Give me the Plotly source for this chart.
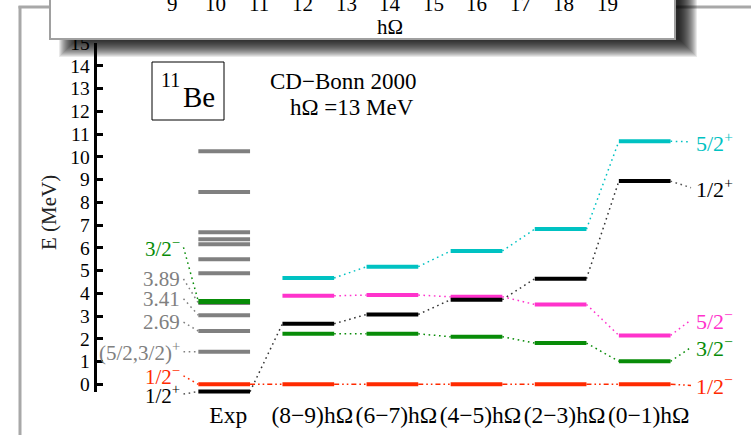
import plotly.graph_objects as go

W, H = 751, 435
FONT = "Liberation Serif, Times New Roman, serif"

# ---------------- data ----------------
columns = ["Exp", "(8−9)hΩ", "(6−7)hΩ", "(4−5)hΩ", "(2−3)hΩ", "(0−1)hΩ"]

exp_gray_levels = [1.43, 2.34, 3.04, 3.57, 4.88, 5.50, 6.16, 6.37, 6.68, 8.45, 10.24]
exp_32m = 3.64    # 3/2-
exp_12m = 0.0     # 1/2-
exp_12p = -0.32   # 1/2+

th_52p = [4.67, 5.17, 5.86, 6.82, 10.68]
th_52m = [3.89, 3.92, 3.85, 3.51, 2.15]
th_12p = [2.66, 3.07, 3.72, 4.64, 8.93]
th_32m = [2.22, 2.22, 2.09, 1.81, 1.01]
th_12m = [0.0, 0.0, 0.0, 0.0, 0.0]

left_labels = ["3/2<sup>−</sup>", "3.89", "3.41", "2.69",
               "(5/2,3/2)<sup>+</sup>", "1/2<sup>−</sup>", "1/2<sup>+</sup>"]
left_label_E = [6.02, 4.63, 3.76, 2.73, 1.43, 0.37, -0.43]
left_level_E = [exp_32m, exp_gray_levels[3], exp_gray_levels[2], exp_gray_levels[1],
                exp_gray_levels[0], exp_12m, exp_12p]

right_labels = ["5/2<sup>+</sup>", "1/2<sup>+</sup>", "5/2<sup>−</sup>",
                "3/2<sup>−</sup>", "1/2<sup>−</sup>"]
right_label_E = [10.66, 8.64, 2.83, 1.62, -0.05]

inset_ticks = [9, 10, 11, 12, 13, 14, 15, 16, 17, 18, 19]
inset_title = "hΩ"

y_ticks = list(range(0, 16))

# ---------------- styles / layout geometry ----------------
C_GRAY = "#808080"
C_GREEN = "#088c08"
C_RED = "#ff2a00"
C_BLACK = "#000000"
C_CYAN = "#00c2c2"
C_MAG = "#ff33cc"

X0_PX, X_STEP = 224.2, 84.1      # pixel of column 0, px per column
Y0_PX, Y_STEP = 384.3, 22.753    # pixel of E=0, px per MeV
HW = 25.85 / X_STEP              # half width of a level bar
DOT = "1.6px,3.6px"
DASHDOT = "5px,3px,1.6px,3px,1.6px,3px"


def px2x(px):
    return px / W


def py2y(py):
    return 1 - py / H


fig = go.Figure()


def add_bars(cols, levels, color, width=4):
    xs, ys = [], []
    for c, e in zip(cols, levels):
        xs += [c - HW, c + HW, None]
        ys += [e, e, None]
    fig.add_trace(go.Scatter(x=xs, y=ys, mode="lines", yaxis="y2",
                             line=dict(color=color, width=width),
                             hoverinfo="skip", showlegend=False))


def add_links(cols, levels, color, dash=DOT, width=1.5):
    xs, ys = [], []
    for i in range(len(cols) - 1):
        xs += [cols[i] + HW, cols[i + 1] - HW, None]
        ys += [levels[i], levels[i + 1], None]
    fig.add_trace(go.Scatter(x=xs, y=ys, mode="lines", yaxis="y2",
                             line=dict(color=color, width=width, dash=dash),
                             hoverinfo="skip", showlegend=False))


th_cols = [1, 2, 3, 4, 5]

# connectors between columns
add_links(th_cols, th_52p, C_CYAN)
add_links(th_cols, th_52m, C_MAG)
add_links(th_cols, th_32m, C_GREEN)
add_links([0] + th_cols, [exp_12p] + th_12p, "#333333")
add_links([0] + th_cols, [exp_12m] + th_12m, C_RED, dash=DASHDOT)

# left label connectors
lx0 = (183.5 - X0_PX) / X_STEP
left_colors = [C_GREEN, C_GRAY, C_GRAY, C_GRAY, C_GRAY, C_RED, "#555555"]
for lab_e, lev_e, col in zip(left_label_E, left_level_E, left_colors):
    fig.add_trace(go.Scatter(x=[lx0, -HW], y=[lab_e, lev_e], mode="lines", yaxis="y2",
                             line=dict(color=col, width=1.5, dash=DOT),
                             hoverinfo="skip", showlegend=False))

# right label connectors
rx1 = (691 - X0_PX) / X_STEP
right_levels = [th_52p[-1], th_12p[-1], th_52m[-1], th_32m[-1], th_12m[-1]]
right_colors = [C_CYAN, C_BLACK, C_MAG, C_GREEN, C_RED]
for lab_e, lev_e, col in zip(right_label_E, right_levels, right_colors):
    dash = DASHDOT if col == C_RED else DOT
    fig.add_trace(go.Scatter(x=[5 + HW, rx1], y=[lev_e, lab_e], mode="lines", yaxis="y2",
                             line=dict(color="#555555" if col == C_BLACK else col,
                                       width=1.5, dash=dash),
                             hoverinfo="skip", showlegend=False))

# level bars
add_bars([0] * len(exp_gray_levels), exp_gray_levels, C_GRAY)
add_bars([0], [exp_32m], C_GREEN, width=5)
add_bars([0], [exp_12m], C_RED)
add_bars([0], [exp_12p], C_BLACK)
add_bars(th_cols, th_52p, C_CYAN)
add_bars(th_cols, th_52m, C_MAG)
add_bars(th_cols, th_32m, C_GREEN)
add_bars(th_cols, th_12p, C_BLACK)
add_bars(th_cols, th_12m, C_RED)

# dummy traces so that the visible energy axis and inset axis exist
fig.add_trace(go.Scatter(x=[None], y=[None], xaxis="x", yaxis="y", showlegend=False))
fig.add_trace(go.Scatter(x=[None], y=[None], xaxis="x2", yaxis="y2", showlegend=False))

# ---------------- annotations ----------------
ann = []
tfont = lambda size, color="black": dict(family=FONT, size=size, color=color)

lx_txt = (182 - X0_PX) / X_STEP
for txt, e, col in zip(left_labels, left_label_E, left_colors):
    colr = C_BLACK if col == "#555555" else col
    ann.append(dict(x=lx_txt, y=e, xref="x", yref="y2", text=txt, showarrow=False,
                    xanchor="right", yanchor="middle", font=tfont(21, colr)))

rx_txt = (693.5 - X0_PX) / X_STEP
for txt, e, col in zip(right_labels, right_label_E, right_colors):
    ann.append(dict(x=rx_txt, y=e, xref="x", yref="y2", text=txt, showarrow=False,
                    xanchor="left", yanchor="middle", font=tfont(22, col)))

# inset tick labels and title
for v in inset_ticks:
    ann.append(dict(x=v, y=py2y(18), xref="x2", yref="paper", text=str(v), showarrow=False,
                    xanchor="center", yanchor="bottom", font=tfont(21)))
ann.append(dict(x=(inset_ticks[0] + inset_ticks[-1]) / 2, y=py2y(27), xref="x2", yref="paper",
                text=inset_title, showarrow=False, xanchor="center", yanchor="middle",
                font=tfont(21)))

# texts
ann.append(dict(x=px2x(159), y=py2y(80), xref="paper", yref="paper", text="11",
                showarrow=False, xanchor="left", yanchor="middle", font=tfont(20)))
ann.append(dict(x=px2x(181), y=py2y(97), xref="paper", yref="paper", text="Be",
                showarrow=False, xanchor="left", yanchor="middle", font=tfont(29)))
ann.append(dict(x=px2x(343.5), y=py2y(81), xref="paper", yref="paper", text="CD−Bonn 2000",
                showarrow=False, xanchor="center", yanchor="middle", font=tfont(23)))
ann.append(dict(x=px2x(352.4), y=py2y(107), xref="paper", yref="paper", text="hΩ =13 MeV",
                showarrow=False, xanchor="center", yanchor="middle", font=tfont(23)))
ann.append(dict(x=px2x(48.5), y=py2y(212.5), xref="paper", yref="paper", text="E (MeV)",
                showarrow=False, textangle=-90, xanchor="center", yanchor="middle",
                font=tfont(21, "#222222")))

# ---------------- shapes ----------------
shapes = []
FRAME = "#a8a8a8"
shapes.append(dict(type="line", xref="paper", yref="paper", x0=px2x(20), x1=px2x(20),
                   y0=py2y(6), y1=py2y(440), line=dict(color=FRAME, width=3), layer="above"))
shapes.append(dict(type="line", xref="paper", yref="paper", x0=px2x(18.5), x1=px2x(760),
                   y0=py2y(7), y1=py2y(7), line=dict(color=FRAME, width=3), layer="above"))
# blurred drop shadow of the inset
for d in range(-9, 10):
    shapes.append(dict(type="rect", xref="paper", yref="paper",
                       x0=px2x(68 - d), x1=px2x(688 + d), y0=py2y(-30 - d), y1=py2y(48 + d),
                       fillcolor="rgba(0,0,0,0.085)", line=dict(width=0), layer="above"))
# inset box
shapes.append(dict(type="rect", xref="paper", yref="paper", x0=px2x(50), x1=px2x(675),
                   y0=py2y(-10), y1=py2y(39), fillcolor="white",
                   line=dict(color="#a0a0a0", width=2), layer="above"))
# 11Be box
shapes.append(dict(type="rect", xref="paper", yref="paper", x0=px2x(152), x1=px2x(224),
                   y0=py2y(62), y1=py2y(120), fillcolor="rgba(0,0,0,0)",
                   line=dict(color="black", width=1), layer="above"))

# ---------------- layout ----------------
y_lo, y_hi = -0.33, 15.0
fig.update_layout(
    template="none",
    width=W, height=H, margin=dict(l=0, r=0, t=0, b=0, pad=0, autoexpand=False),
    paper_bgcolor="white", plot_bgcolor="rgba(0,0,0,0)",
    showlegend=False,
    xaxis=dict(domain=[0, 1], range=[-X0_PX / X_STEP, (W - X0_PX) / X_STEP],
               anchor="free", position=py2y(398), side="bottom", automargin=False,
               tickmode="array", tickvals=list(range(len(columns))), ticktext=columns,
               tickfont=tfont(23.5), ticks="", tickangle=0, showline=False, showgrid=False,
               zeroline=False, ticklabelshift=4),
    yaxis=dict(domain=[py2y(Y0_PX - y_lo * Y_STEP), py2y(Y0_PX - y_hi * Y_STEP)],
               range=[y_lo, y_hi], anchor="free", position=px2x(94.7), automargin=False,
               tickmode="array", tickvals=y_ticks, ticktext=[str(t) for t in y_ticks],
               ticks="inside", ticklen=6, tickwidth=2.5, tickcolor="black",
               showline=True, linecolor="black", linewidth=3,
               tickfont=tfont(19.5), showgrid=False, zeroline=False),
    yaxis2=dict(domain=[0, 1], range=[(Y0_PX - H) / Y_STEP, Y0_PX / Y_STEP],
                anchor="x", visible=False, automargin=False),
    xaxis2=dict(domain=[px2x(50), px2x(675)],
                range=[9 + (50 - 172.4) / 43.46, 9 + (675 - 172.4) / 43.46],
                anchor="y2", visible=False, automargin=False),
    annotations=ann, shapes=shapes,
)

POST = ("document.body.style.margin='0';"
        "var d=document.getElementById('{plot_id}');"
        "d.style.position='absolute';d.style.top='0px';d.style.left='0px';")
fig.write_html("out.html", post_script=POST, config={"displayModeBar": False})
